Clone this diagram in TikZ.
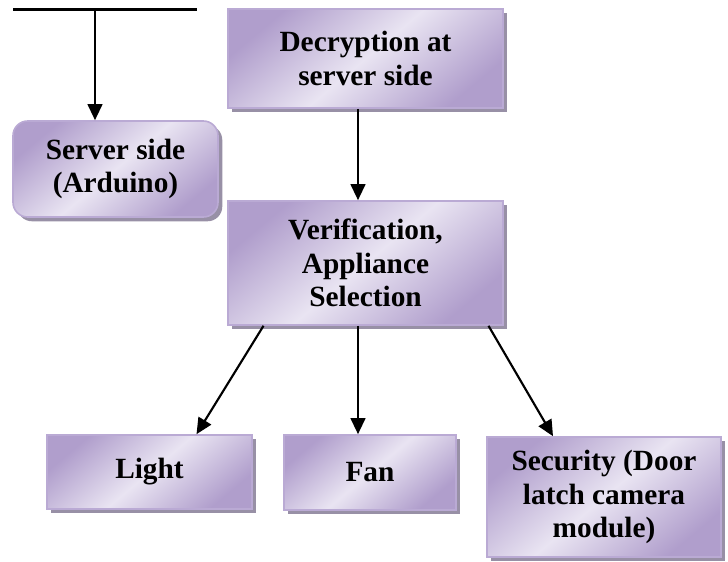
\documentclass[tikz,border=0pt]{standalone}
\usepackage{fontspec}
\setmainfont{Liberation Serif}
\usepackage{xcolor}
\usepackage{tikz}
\usetikzlibrary{positioning, arrows.meta, shadows}
\definecolor{lavd}{RGB}{176,158,204}
\definecolor{lavl}{RGB}{233,228,242}
\definecolor{lavb}{RGB}{186,170,212}
\definecolor{shd}{RGB}{152,144,166}

\begin{document}
\begin{tikzpicture}[x=0.75pt, y=-0.75pt, >={Triangle[length=12pt, width=11pt]},
    font=\fontsize{22pt}{25pt}\selectfont\bfseries,
    blk/.style ={draw=lavb, line width=1.2pt, left color=lavd, right color=lavd, middle color=lavl,
                 shading angle=40, align=center, inner sep=0pt,
                 drop shadow={shadow xshift=3.2pt, shadow yshift=-3.2pt, fill=shd, opacity=1}},
    rblk/.style={blk, rounded corners=11pt},
    arr/.style ={->, line width=1.6pt, black}]
    \useasboundingbox (0,0) rectangle (728,561);
    % incoming line
    \coordinate (la) at (13,9.5);
    \coordinate (lb) at (197,9.5);
    \coordinate (lm) at (95,9.5);
    \draw[line width=1.6pt] (la) -- (lb);
    % server + decryption
    \node[rblk, minimum width=153.75pt, minimum height=72pt] (srv) at (115.5,169) {Server side\\(Arduino)};
    \node[blk, minimum width=206.25pt, minimum height=74.25pt] (dec) at (365.5,58.5) {Decryption at\\server side};
    \node[blk, minimum width=206.25pt, minimum height=93pt] (ver) at (365.5,263) {Verification,\\Appliance\\Selection};
    % appliances
    \node[blk, minimum width=153.75pt, minimum height=55.5pt] (lgt) at (149.5,472) {Light};
    \node[blk, minimum width=129pt, minimum height=56.25pt] (fan) at (370,472.5) {Fan};
    \node[blk, minimum width=175.5pt, minimum height=90pt] (sec) at (604,497) {Security (Door\\latch camera\\module)};
    % arrows
    \coordinate (mid) at (358,0);
    \draw[arr] (lm) -- (lm |- srv.north);
    \draw[arr] (dec.south -| mid) -- (ver.north -| mid);
    \draw[arr] ([xshift=-76.5pt]ver.south) -- ([xshift=35.25pt]lgt.north);
    \draw[arr] (ver.south -| mid) -- (fan.north -| mid);
    \draw[arr] ([xshift=92.25pt]ver.south) -- ([xshift=-38.25pt]sec.north);
  \end{tikzpicture}
\end{document}
